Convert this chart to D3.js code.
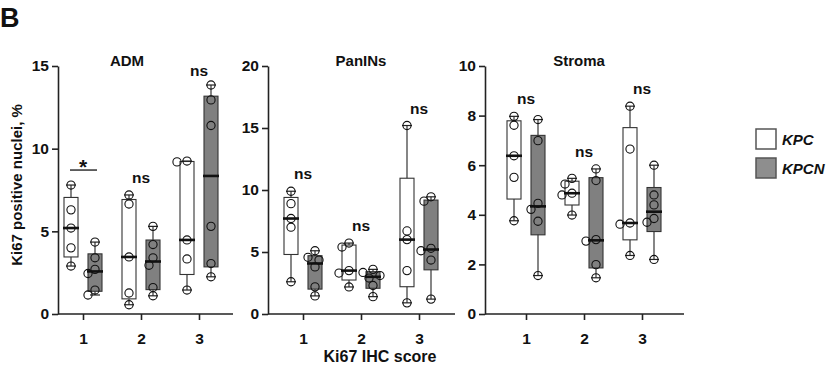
<!DOCTYPE html>
<html>
<head>
<meta charset="utf-8">
<script src="https://cdn.jsdelivr.net/npm/d3@7"></script>
<style>
  body { margin: 0; background: #fff; }
  text { font-family: "Liberation Sans", Arial, sans-serif; font-weight: bold; fill: #111; }
</style>
</head>
<body>
<svg id="chart" width="828" height="370"></svg>
<script>
// ---- data ----
const groups = [1, 2, 3]
const panelTitles = ["ADM", "PanINs", "Stroma"]
const yMax = [15, 20, 10]
const yTicks = [[0, 5, 10, 15], [0, 5, 10, 15, 20], [0, 2, 4, 6, 8, 10]]
const legendLabels = ["KPC", "KPCN"]

// individual values, one array per IHC score (1, 2, 3)
const admKPC = [[7.8, 6.3, 5.2, 4.0, 2.9], [7.2, 6.65, 3.45, 1.27, 0.56], [9.25, 9.2, 4.48, 3.33, 1.45]]
const admKPCN = [[4.35, 3.4, 2.7, 2.45, 1.45, 1.15], [5.3, 4.2, 3.4, 2.95, 1.6, 1.1], [13.85, 12.95, 11.4, 5.3, 3.05, 2.25]]
const paninKPC = [[9.9, 8.9, 7.7, 7.0, 2.6], [5.72, 5.4, 3.5, 3.3, 2.18], [15.2, 6.7, 6.0, 3.5, 0.9]]
const paninKPCN = [[5.1, 4.57, 4.35, 3.8, 2.19, 1.46], [3.6, 3.35, 3.1, 2.9, 2.3, 1.4], [9.45, 9.1, 5.3, 5.1, 4.35, 1.2]]
const stromaKPC = [[7.97, 7.61, 6.38, 5.51, 3.76], [5.47, 5.24, 4.87, 4.8, 3.99], [8.38, 6.65, 3.67, 3.62, 2.36]]
const stromaKPCN = [[7.84, 6.99, 4.46, 4.22, 3.74, 1.55], [5.85, 5.38, 3.0, 2.94, 1.99, 1.46], [6.0, 4.8, 4.4, 3.85, 3.7, 2.2]]

const admSig = ["*", "ns", "ns"]
const paninSig = ["ns", "ns", "ns"]
const stromaSig = ["ns", "ns", "ns"]

const panelData = [
  {kpc: admKPC, kpcn: admKPCN, sig: admSig},
  {kpc: paninKPC, kpcn: paninKPCN, sig: paninSig},
  {kpc: stromaKPC, kpcn: stromaKPCN, sig: stromaSig}
]

// ---- layout ----
const plotTop = 66, plotBottom = 314
const layout = [
  {left: 58, first: 83, right: 233, titleX: 127},
  {left: 268, first: 303, right: 455, titleX: 361},
  {left: 485, first: 526, right: 684, titleX: 579}
]
const tickStep = 58, boxOff = 12, boxW = 14, r = 4.1
const fills = ["#ffffff", "#808080"]

const svg = d3.select("#chart")

// quartiles the way Prism computes them
function quart(vals, p) {
  const s = vals.slice().sort(d3.ascending), n = s.length
  const pos = p * (n + 1)
  if (pos <= 1) return s[0]
  if (pos >= n) return s[n - 1]
  const lo = Math.floor(pos)
  return s[lo - 1] + (pos - lo) * (s[lo] - s[lo - 1])
}

// small beeswarm so circles don't sit on top of each other
function swarm(vals, y) {
  const placed = []
  const offs = [0, -4, 4, -7, 7, -10, 10]
  vals.slice().sort(d3.descending).forEach(v => {
    const py = y(v)
    for (const o of offs) {
      if (placed.every(p => Math.hypot(p.dx - o, p.py - py) >= 2 * r - 0.5)) {
        placed.push({v: v, dx: o, py: py}); return
      }
    }
    placed.push({v: v, dx: 0, py: py})
  })
  return placed
}

panelData.forEach(function(pd, i) {
  const L = layout[i]
  const y = d3.scaleLinear().domain([0, yMax[i]]).range([plotBottom, plotTop])
  const x = d3.scaleLinear().domain([1, 3]).range([L.first, L.first + 2 * tickStep])
  const g = svg.append("g")

  g.append("g")
    .attr("transform", `translate(${L.left},0)`)
    .call(d3.axisLeft(y).tickValues(yTicks[i]).tickSize(6).tickPadding(3).tickSizeOuter(0))
    .call(a => a.selectAll("text").attr("font-size", 15.5).attr("font-family", null))
    .call(a => a.selectAll("line,path").attr("stroke", "#222").attr("stroke-width", 1.6))

  const xa = g.append("g")
    .attr("transform", `translate(0,${plotBottom})`)
    .call(d3.axisBottom(x).tickValues(groups).tickFormat(d3.format("d")).tickSize(6).tickPadding(13).tickSizeOuter(0))
    .call(a => a.selectAll("text").attr("font-size", 15.5).attr("font-family", null))
    .call(a => a.selectAll("line").attr("stroke", "#222").attr("stroke-width", 1.6))
  xa.select(".domain").attr("d", `M${L.left},0H${L.right}`).attr("stroke", "#222").attr("stroke-width", 1.6)

  g.append("text")
    .attr("x", L.titleX).attr("y", 66)
    .attr("text-anchor", "middle").attr("font-size", 15)
    .text(panelTitles[i])

  groups.forEach(function(grp, j) {
    const sets = [pd.kpc[j], pd.kpcn[j]]
    sets.forEach(function(vals, k) {
      const cx = x(grp) + (k === 0 ? -boxOff : boxOff)
      const q1 = quart(vals, 0.25), med = quart(vals, 0.5), q3 = quart(vals, 0.75)
      const mn = d3.min(vals), mx = d3.max(vals)
      const bg = g.append("g")
      bg.append("line").attr("x1", cx).attr("x2", cx).attr("y1", y(mx)).attr("y2", y(mn))
        .attr("stroke", "#222").attr("stroke-width", 1.1)
      bg.append("rect")
        .attr("x", cx - boxW / 2).attr("width", boxW)
        .attr("y", y(q3)).attr("height", y(q1) - y(q3))
        .attr("fill", fills[k]).attr("stroke", "#333").attr("stroke-width", 1.1)
      bg.selectAll(".cap").data([mn, mx]).enter().append("line")
        .attr("x1", cx - 5).attr("x2", cx + 5).attr("y1", d => y(d)).attr("y2", d => y(d))
        .attr("stroke", "#222").attr("stroke-width", 1.2)
      bg.append("line")
        .attr("x1", cx - boxW / 2 - 1).attr("x2", cx + boxW / 2 + 1)
        .attr("y1", y(med)).attr("y2", y(med))
        .attr("stroke", "#111").attr("stroke-width", 2.6)
      bg.selectAll("circle").data(swarm(vals, y)).enter().append("circle")
        .attr("cx", d => cx + d.dx).attr("cy", d => d.py).attr("r", r)
        .attr("fill", "none").attr("stroke", "#111").attr("stroke-width", 1.1)
    })

    const topV = d3.max(sets[0].concat(sets[1]))
    const sy = Math.max(y(topV) - 12, 76)
    if (pd.sig[j] === "*") {
      const ly = y(topV) - 15
      g.append("line")
        .attr("x1", x(grp) - boxOff - 1).attr("x2", x(grp) + boxOff + 2)
        .attr("y1", ly).attr("y2", ly).attr("stroke", "#111").attr("stroke-width", 1.3)
      g.append("text").attr("x", x(grp)).attr("y", ly + 4)
        .attr("text-anchor", "middle").attr("font-size", 21).text("*")
    } else {
      g.append("text").attr("x", x(grp)).attr("y", sy)
        .attr("text-anchor", "middle").attr("font-size", 15.5).text(pd.sig[j])
    }
  })
})

// y axis title
svg.append("text")
  .attr("transform", "translate(22,185) rotate(-90)")
  .attr("text-anchor", "middle").attr("font-size", 15)
  .text("Ki67 positive nuclei, %")

// shared x axis title
svg.append("text")
  .attr("x", 380).attr("y", 362)
  .attr("text-anchor", "middle").attr("font-size", 16)
  .text("Ki67 IHC score")

// panel letter
svg.append("text").attr("x", 0).attr("y", 27).attr("font-size", 27).text("B")

// legend
const leg = svg.append("g").attr("transform", "translate(756,129)")
legendLabels.forEach(function(lab, k) {
  leg.append("rect").attr("x", 0).attr("y", k * 29).attr("width", 20).attr("height", 20)
    .attr("fill", k === 0 ? "#fff" : "#8e8e8e").attr("stroke", "#555").attr("stroke-width", 1.5)
  leg.append("text").attr("x", 26).attr("y", k * 29 + 16)
    .attr("font-size", 15).attr("font-style", "italic").text(lab)
})
</script>
</body>
</html>
